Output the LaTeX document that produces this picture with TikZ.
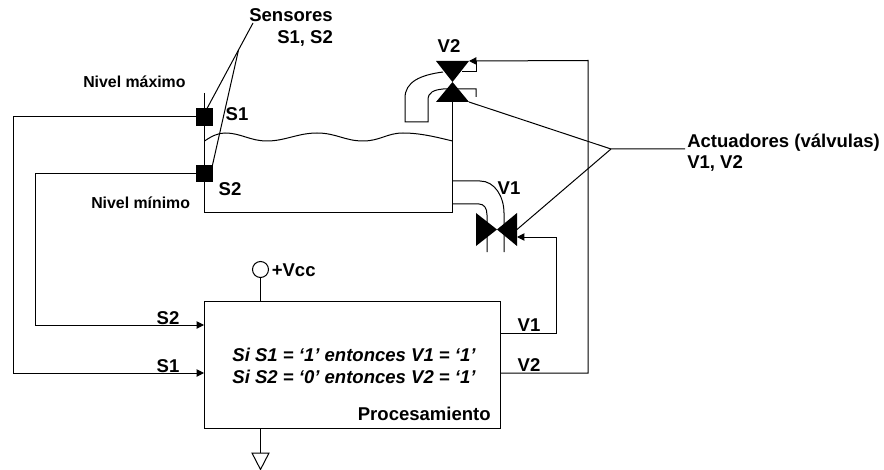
\documentclass[tikz,border=0pt]{standalone}
\usepackage{fontspec}
\setmainfont{Liberation Sans}
\usetikzlibrary{arrows.meta}
\tikzset{
  x=0.75pt,y=-0.75pt,
  wire/.style={draw=black,line width=0.75pt},
  arrowwire/.style={wire,-{Triangle[length=5.5pt,width=5.5pt]}},
  lab/.style={inner sep=0pt,font=\fontsize{13.9pt}{16pt}\selectfont\bfseries},
  smalllab/.style={inner sep=0pt,font=\fontsize{11.9pt}{14pt}\selectfont\bfseries},
  rule/.style={inner sep=0pt,font=\fontsize{13.9pt}{16pt}\selectfont\bfseries\itshape},
  sensorbox/.style={fill=black,draw=none,minimum width=12.75pt,minimum height=13pt,inner sep=0pt},
  valvefill/.style={fill=black,draw=none},
}
\begin{document}
\begin{tikzpicture}
\useasboundingbox (0,0) rectangle (884,470);
% coordinates
\coordinate (tankTL) at (204.5,93);
\coordinate (tankBL) at (204.5,213);
\coordinate (tankBR) at (452.5,213);
\coordinate (tankTR) at (452.5,102);
\node[sensorbox] (s1) at (204.5,117) {};
\node[sensorbox] (s2) at (204.5,173.5) {};
\node[draw=black,line width=0.75pt,minimum width=222pt,minimum height=95.5pt,inner sep=0pt] (proc) at (352.2,364.7) {};
\coordinate (s1in) at (204,373);
\coordinate (s2in) at (204,325);
\coordinate (v1out) at (500,333);
\coordinate (v2out) at (500,373);
% tank
\draw[wire] (tankTL) -- (tankBL) -- (tankBR) -- (tankTR);
\draw[wire] (204.5,141) .. controls (212,136) and (218,133) .. (225,133) .. controls (241,133) and (250,141) .. (267,141) .. controls (285,141) and (298,133) .. (317,133) .. controls (336,133) and (345,141) .. (363,141) .. controls (380,141) and (387,133) .. (403,133) .. controls (420,133) and (436,137) .. (452.5,141);
% V2 pipes
\draw[wire] (443,72) .. controls (420,75) and (405,82) .. (405,98) -- (405,122) -- (428,122) -- (428,100) .. controls (428,92) and (434,90) .. (443,89) -- (476,89) -- (476,97);
\draw[wire] (462,71.5) -- (476,71.5) -- (476,61);
% V2
\coordinate (v2t) at (469,61);
\coordinate (v2b) at (469,102);
\fill[valvefill] (436,61) -- (v2t) -- (452.5,82) -- cycle;
\fill[valvefill] (436,102) -- (v2b) -- (452.5,82) -- cycle;
% V1 pipes
\draw[wire] (452.5,181) -- (480,181) .. controls (495,181) and (504,197) .. (504,213) -- (504,252);
\draw[wire] (452.5,204) -- (479,204) .. controls (484,204) and (487,208) .. (487,215) -- (487,252);
% V1
\coordinate (v1r) at (517,229.5);
\coordinate (v1a) at (517,237);
\fill[valvefill] (476,213) -- (476,246) -- (497,229.5) -- cycle;
\fill[valvefill] (517,213) -- (517,246) -- (497,229.5) -- cycle;
% control wires
\draw[arrowwire] (s1.west) -- (13,117) -- (13,373) -- (s1in);
\draw[arrowwire] (s2.west) -- (35,173.5) -- (35,325) -- (s2in);
\draw[arrowwire] (v1out) -- (556,333) -- (556,237) -- (v1a);
\draw[arrowwire] (v2out) -- (588,373) -- (588,60.5) -- (v2t);
% Sensor leader
\coordinate (senstip) at (253,23);
\coordinate (sensmid) at (238.5,50);
\draw[wire] (senstip) -- (207,108.5);
\draw[wire] (sensmid) -- (212.5,165);
% Actuators leader
\coordinate (acta) at (685,149);
\coordinate (actb) at (611,149);
\draw[wire] (acta) -- (actb) -- (v2b);
\draw[wire] (actb) -- (v1r);
% power
\node[draw=black,line width=0.75pt,circle,minimum size=12pt,inner sep=0pt] (vcc) at (260.5,269.5) {};
\draw[wire] (vcc.south) -- (vcc.south |- proc.north);
\coordinate (gnd) at (260.5,453);
\draw[wire] (gnd |- proc.south) -- (gnd);
\draw[wire] (252,453) -- (269,453) -- (260.5,469.5) -- cycle;
% text
\node[lab,anchor=west] (tsens) at (249,15) {Sensores};
\node[lab,anchor=west] (tsens2) at (277,38) {S1, S2};
\node[smalllab,anchor=west] (tmax) at (83,82) {Nivel máximo};
\node[smalllab,anchor=west] (tmin) at (91,203) {Nivel mínimo};
\node[lab] (ts1) at (237,114) {S1};
\node[lab] (ts2) at (230,189) {S2};
\node[lab] (tv2) at (449,46) {V2};
\node[lab] (tv1) at (509,188) {V1};
\node[lab,anchor=west] (tact) at (687,143) {Actuadores (válvulas)};
\node[lab,anchor=west] (tact2) at (687,163) {V1, V2};
\node[lab,anchor=west] (tvcc) at (271.5,270) {+Vcc};
\node[lab] (tps2) at (168,318) {S2};
\node[lab] (tps1) at (168,366) {S1};
\node[lab] (tpv1) at (529,325) {V1};
\node[lab] (tpv2) at (529,365) {V2};
\node[rule] (r1) at (354,355) {Si S1 = ‘1’ entonces V1 = ‘1’};
\node[rule] (r2) at (354,377) {Si S2 = ‘0’ entonces V2 = ‘1’};
\node[lab,anchor=east] (tproc) at (491,414) {Procesamiento};
\end{tikzpicture}
\end{document}
